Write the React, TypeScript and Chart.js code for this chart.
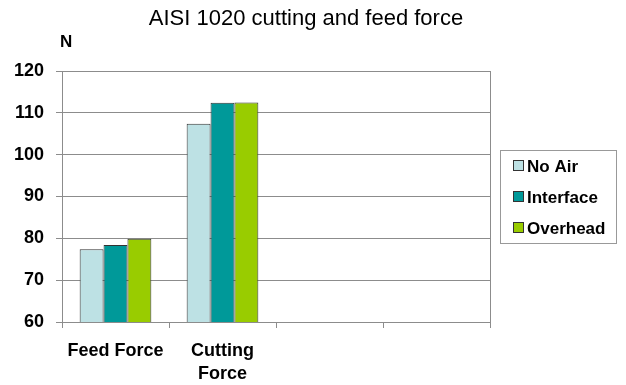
import React, { useEffect, useRef } from "react";
import { Chart, registerables } from "chart.js";

Chart.register(...registerables);

const TITLE = "AISI 1020 cutting and feed force";
const Y_UNIT = "N";
const categories: (string | string[])[] = ["Feed Force", ["Cutting", "Force"], "", ""];
const seriesNames = ["No Air", "Interface", "Overhead"];
const noAir = [77.4, 107.4, null, null];
const interfaceVals = [78.4, 112.4, null, null];
const overhead = [79.9, 112.5, null, null];
const seriesColors = ["#BDE1E4", "#009999", "#99CC00"];
const yMin = 60;
const yMax = 120;
const yStep = 10;

const FONT = "'Liberation Sans', Arial, sans-serif";

const decorPlugin = {
  id: "decor",
  afterDraw(chart: any) {
    const { ctx, chartArea } = chart;
    ctx.save();
    // plot border
    ctx.strokeStyle = "#8c8c8c";
    ctx.lineWidth = 1;
    ctx.strokeRect(
      Math.round(chartArea.left) + 0.5,
      Math.round(chartArea.top) + 0.5,
      Math.round(chartArea.right - chartArea.left),
      Math.round(chartArea.bottom - chartArea.top)
    );
    // title
    ctx.fillStyle = "#000";
    ctx.font = `22px ${FONT}`;
    ctx.textAlign = "center";
    ctx.textBaseline = "middle";
    ctx.fillText(TITLE, 306, 19);
    // unit
    ctx.font = `bold 17px ${FONT}`;
    ctx.textAlign = "left";
    ctx.fillText(Y_UNIT, 60, 42);
    // legend
    const bx = 500.5, by = 150.5, bw = 116, bh = 93;
    ctx.fillStyle = "#fff";
    ctx.fillRect(bx, by, bw, bh);
    ctx.strokeStyle = "#999";
    ctx.strokeRect(bx, by, bw, bh);
    ctx.font = `bold 17px ${FONT}`;
    ctx.textBaseline = "middle";
    chart.data.datasets.forEach((ds: any, i: number) => {
      const cy = 166 + i * 31;
      ctx.fillStyle = ds.backgroundColor;
      ctx.fillRect(513.5, cy - 5.5, 10, 10);
      ctx.strokeStyle = "#333";
      ctx.strokeRect(513.5, cy - 5.5, 10, 10);
      ctx.fillStyle = "#000";
      ctx.fillText(ds.label, 527, cy + 1);
    });
    ctx.restore();
  },
};

export default function App() {
  const ref = useRef<HTMLCanvasElement>(null);
  useEffect(() => {
    const datasets = [noAir, interfaceVals, overhead].map((d, i) => ({
      label: seriesNames[i],
      data: d,
      backgroundColor: seriesColors[i],
      borderColor: "#333",
      borderWidth: 1,
      categoryPercentage: 0.67,
      barPercentage: 1.0,
    }));
    const chart = new Chart(ref.current!, {
      type: "bar",
      data: { labels: categories, datasets },
      plugins: [decorPlugin],
      options: {
        animation: false,
        responsive: false,
        devicePixelRatio: 1,
        layout: { padding: { top: 71, right: 136, left: 0, bottom: 0 } },
        plugins: { legend: { display: false }, title: { display: false }, tooltip: { enabled: false } },
        scales: {
          x: {
            afterFit: (s: any) => { s.height = 63; },
            grid: { display: true, drawOnChartArea: false, drawTicks: true, tickLength: 6, offset: true, color: "#8c8c8c" },
            border: { display: true, color: "#8c8c8c" },
            ticks: { color: "#000", font: { family: FONT, size: 18, weight: "bold", lineHeight: 1.25 }, padding: 12, maxRotation: 0, autoSkip: false },
          },
          y: {
            min: yMin,
            max: yMax,
            afterFit: (s: any) => { s.width = 62; },
            grid: { color: "#8c8c8c", tickLength: 6 },
            border: { display: true, color: "#8c8c8c" },
            ticks: { stepSize: yStep, color: "#000", font: { family: FONT, size: 18, weight: "bold" }, padding: 12 },
          },
        },
      } as any,
    });
    return () => chart.destroy();
  }, []);
  return (
    <div style={{ position: "absolute", left: 0, top: 0, width: 626, height: 385, background: "#fff" }}>
      <canvas ref={ref} width={626} height={385} />
    </div>
  );
}
